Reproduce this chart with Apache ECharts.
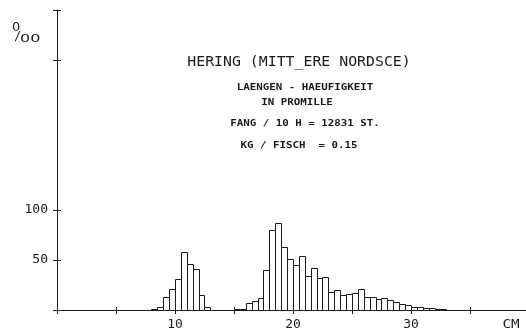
<!DOCTYPE html>
<html><head><meta charset="utf-8">
<script src="https://cdn.jsdelivr.net/npm/echarts@6/dist/echarts.min.js"></script>
<style>html,body{margin:0;padding:0;background:#fff}#c{width:526px;height:336px}</style>
</head><body><div id="c"></div>
<script>
// Length bins (cm, start of each 0.5 cm class) and frequency in per mille
const binStart = [7.5, 8.0, 8.5, 9.0, 9.5, 10.0, 10.5, 11.0, 11.5, 12.0, 12.5, 13.0,
  15.0, 15.5, 16.0, 16.5, 17.0, 17.5, 18.0, 18.5, 19.0, 19.5, 20.0, 20.5, 21.0, 21.5,
  22.0, 22.5, 23.0, 23.5, 24.0, 24.5, 25.0, 25.5, 26.0, 26.5, 27.0, 27.5, 28.0, 28.5,
  29.0, 29.5, 30.0, 30.5, 31.0, 31.5, 32.0, 32.5, 33.0, 33.5, 34.0];
const binWidth = 0.5;
const permille = [0.5, 1.5, 3, 13, 21, 31, 58, 46, 41, 15, 3, 0.5,
  1, 1.5, 7, 9, 12, 40, 80, 87, 63, 51, 45, 54, 34, 42,
  32, 33, 18, 20, 15, 16, 17, 21, 13, 13, 11, 12, 10, 8,
  6, 5, 3, 3, 2, 2, 1, 1, 0.5, 0.5, 0.5];

const yTickValues = [0, 50, 100, 250, 300];
const yLabelValues = [50, 100];
const xTickValues = [0, 5, 10, 15, 20, 25, 30, 35];
const xCrossTicks = [5, 15, 35];
const xLabelValues = [10, 20, 30];

const titleText = 'HERING (MITT_ERE NORDSCE)';
const infoLines = ['LAENGEN - HAEUFIGKEIT', 'IN PROMILLE', 'FANG / 10 H = 12831 ST.', 'KG / FISCH  = 0.15'];
const unitTop = '0';
const unitSlash = '/';
const unitBottom = '00';
const xUnit = 'CM';

const FONT = '"DejaVu Sans Mono", "Liberation Mono", monospace';
const INK = '#1a1a1a';
const NONE = 'rgba(0,0,0,0)';

const chart = echarts.init(document.getElementById('c'), null, {renderer: 'canvas'});

const infoPos = [[305, 88], [297, 103], [305, 124], [299, 146]];

const graphics = [
  {type: 'text', x: 12, y: 21, style: {text: unitTop, font: '13px "DejaVu Sans", sans-serif', fill: INK}},
  {type: 'text', x: 14, y: 31, style: {text: unitSlash, font: '12px ' + FONT, fill: INK}},
  {type: 'text', x: 20, y: 34, scaleX: 1.6, style: {text: unitBottom, font: '10px "DejaVu Sans", sans-serif', fill: INK}},
  {type: 'text', x: 299, y: 62, scaleX: 1.06, style: {text: titleText, font: '14px ' + FONT, fill: INK, textAlign: 'center', textVerticalAlign: 'middle'}},
  {type: 'text', x: 511, y: 325, scaleX: 1.1, style: {text: xUnit, font: '13px ' + FONT, fill: INK, textAlign: 'center', textVerticalAlign: 'middle'}}
];
infoLines.forEach((t, i) => {
  graphics.push({type: 'text', x: infoPos[i][0], y: infoPos[i][1], scaleX: 1.2,
    style: {text: t, font: 'bold 9px ' + FONT, fill: INK, textAlign: 'center', textVerticalAlign: 'middle'}});
});

const option = {
  animation: false,
  backgroundColor: '#fff',
  grid: {left: 57, right: 0, top: 10, bottom: 26, outerBoundsMode: 'none'},
  xAxis: [{
    type: 'value', min: 0, max: 39.75,
    axisLine: {show: true, lineStyle: {color: INK, width: 1}},
    axisTick: {show: true, customValues: xTickValues, length: 4, lineStyle: {color: INK}},
    axisLabel: {customValues: xLabelValues, margin: 8, fontFamily: FONT, fontSize: 13, color: INK},
    splitLine: {show: false}
  }, {
    type: 'value', min: 0, max: 39.75, position: 'bottom', offset: 0,
    axisLine: {show: true, lineStyle: {color: NONE}},
    axisTick: {show: true, inside: true, customValues: xCrossTicks, length: 3, lineStyle: {color: INK}},
    axisLabel: {show: false}, splitLine: {show: false}
  }],
  yAxis: [{
    type: 'value', min: 0, max: 300, position: 'left',
    axisLine: {show: true, lineStyle: {color: INK, width: 1}},
    axisTick: {show: true, customValues: yTickValues, length: 4, lineStyle: {color: INK}},
    axisLabel: {customValues: yLabelValues, margin: 9, fontFamily: FONT, fontSize: 13, color: INK},
    splitLine: {show: false}
  }, {
    type: 'value', min: 0, max: 300, position: 'left', offset: 0,
    axisLine: {show: true, lineStyle: {color: NONE}},
    axisTick: {show: true, inside: true, customValues: yTickValues, length: 4, lineStyle: {color: INK}},
    axisLabel: {show: false}, splitLine: {show: false}
  }],
  graphic: graphics,
  series: [{
    type: 'custom',
    xAxisIndex: 0, yAxisIndex: 0,
    data: binStart.map((b, i) => [b, permille[i]]),
    encode: {x: 0, y: 1},
    z: 5,
    renderItem: function (params, api) {
      const x0 = api.value(0), v = api.value(1);
      if (!v) return null;
      const p0 = api.coord([x0, 0]);
      const p1 = api.coord([x0 + binWidth, v]);
      const xa = Math.round(p0[0]) + 0.5, xb = Math.round(p1[0]) + 0.5;
      const yt = Math.round(p1[1]) + 0.5, yb = Math.round(p0[1]) + 0.5;
      return {type: 'rect', shape: {x: xa, y: yt, width: xb - xa, height: yb - yt},
        style: {fill: '#fff', stroke: INK, lineWidth: 1}};
    }
  }, {
    type: 'scatter', xAxisIndex: 1, yAxisIndex: 1, symbolSize: 0, silent: true,
    data: [[0, 0]]
  }]
};
chart.setOption(option);
</script>
</body></html>
